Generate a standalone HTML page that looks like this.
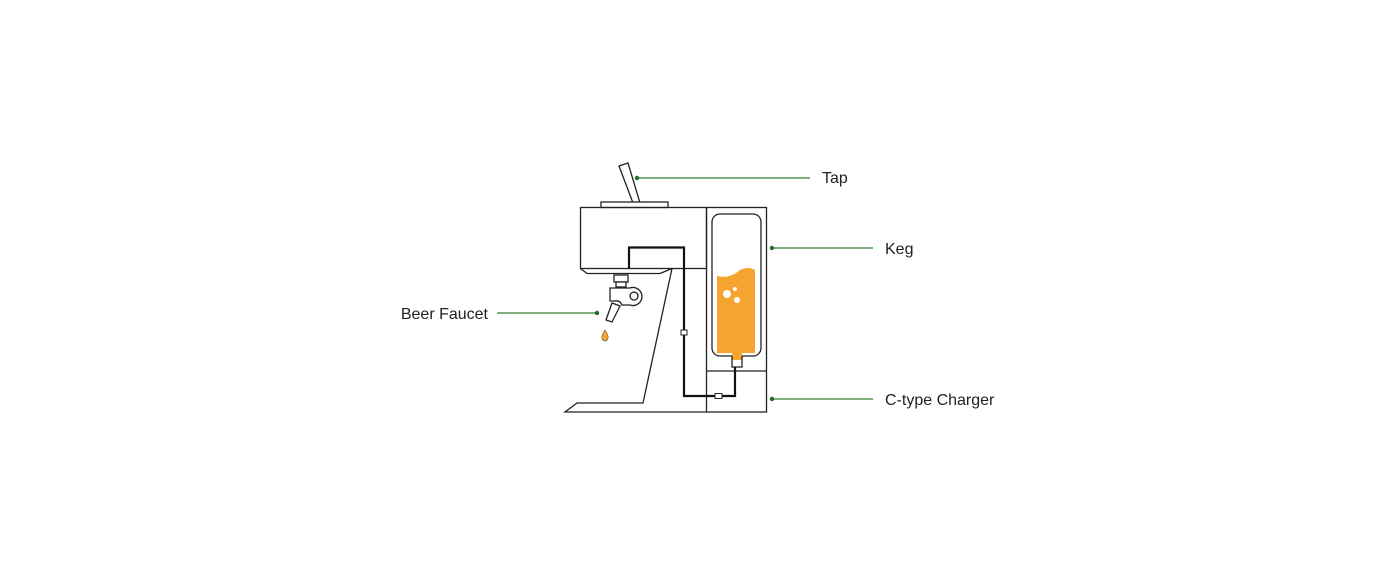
<!DOCTYPE html>
<html><head><meta charset="utf-8"><style>
html,body{margin:0;padding:0;background:#fff;}
svg{display:block}
text{font-family:"Liberation Sans",sans-serif;font-size:16px;fill:#222;}
</style></head><body>
<svg width="1400" height="577" viewBox="0 0 1400 577" xmlns="http://www.w3.org/2000/svg">
<g fill="none" stroke="#222" stroke-width="1.3">
  <polygon points="619,166 628,163 640,203 633,203" fill="#fff"/>
  <rect x="601" y="202" width="67" height="5.5" fill="#fff"/>
  <rect x="580.5" y="207.5" width="126" height="61"/>
  <rect x="706.5" y="207.5" width="60" height="204.5"/>
  <line x1="706.5" y1="371" x2="766.5" y2="371"/>
  <polyline points="580.5,268.5 587,273.5 660,273.5 672,268.5"/>
  <polyline points="672,268.5 643,403 577,403 565,412 706.5,412"/>
  <rect x="614" y="275" width="14" height="7" fill="#fff"/>
  <rect x="616" y="282" width="10" height="5" fill="#fff"/>
  <path d="M610,288 H630 A9,9 0 1 1 630,305 L622,305 Q620,300 614,301 H610 Z" fill="#fff"/>
  <circle cx="634" cy="296" r="4"/>
  <polygon points="612,303 620,306 612,322 606,320" fill="#fff"/>
  <rect x="712" y="214" width="49" height="142" rx="8"/>
</g>
<path d="M717,276 Q730,279 740,270 Q748,266 755,270 L755,353 L742,353 L742,360 L732,360 L732,353 L717,353 Z" fill="#f5a52f"/>
<polyline points="732,356 732,367 742,367 742,356" fill="none" stroke="#222" stroke-width="1.3"/>
<polyline points="629,268.5 629,247.5 684,247.5 684,396 735,396 735,367" fill="none" stroke="#111" stroke-width="2.2"/>
<rect x="681" y="330" width="6" height="5" fill="#fff" stroke="#222" stroke-width="1"/>
<rect x="715" y="393.5" width="7" height="5" fill="#fff" stroke="#222" stroke-width="1"/>
<circle cx="727" cy="294" r="4" fill="#fff"/>
<circle cx="735" cy="289" r="2" fill="#fff"/>
<circle cx="737" cy="300" r="3" fill="#fff"/>
<path d="M605,330 Q601,336 602,338 A3,3 0 0 0 608,338 Q609,336 605,330 Z" fill="#f5a52f" stroke="#555" stroke-width="0.6"/>
<g stroke="#2f7d32" stroke-width="1.3">
  <line x1="637" y1="178" x2="810" y2="178"/>
  <line x1="772" y1="248" x2="873" y2="248"/>
  <line x1="497" y1="313" x2="597" y2="313"/>
  <line x1="772" y1="399" x2="873" y2="399"/>
</g>
<g fill="#1f6e24">
  <circle cx="637" cy="178" r="2.2"/>
  <circle cx="772" cy="248" r="2.2"/>
  <circle cx="597" cy="313" r="2.2"/>
  <circle cx="772" cy="399" r="2.2"/>
</g>
<text x="822" y="183">Tap</text>
<text x="885" y="254">Keg</text>
<text x="488" y="319" text-anchor="end">Beer Faucet</text>
<text x="885" y="405">C-type Charger</text>
</svg>
</body></html>
